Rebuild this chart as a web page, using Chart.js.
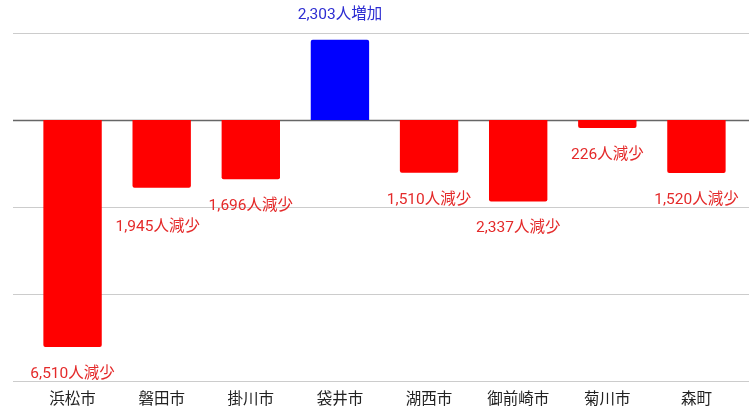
<!DOCTYPE html>
<html lang="ja">
<head>
<meta charset="utf-8">
<script src="https://cdn.jsdelivr.net/npm/chart.js@4"></script>
<style>
  html, body { margin: 0; padding: 0; background: #ffffff; }
  #wrap { width: 749px; height: 408px; position: relative; }
</style>
</head>
<body>
<div id="wrap"><canvas id="popChart" width="749" height="408"></canvas></div>
<script>
const cities = ["浜松市", "磐田市", "掛川市", "袋井市", "湖西市", "御前崎市", "菊川市", "森町"];
const changes = [-6510, -1945, -1696, 2303, -1510, -2337, -226, -1520];
const yTicks = [-7500, -5000, -2500, 0, 2500];

const FONT = "Roboto, 'Noto Sans CJK JP', sans-serif";

// horizontal grid lines, drawn a bit wider than the plot area like the original
const gridPlugin = {
  id: "wideGrid",
  beforeDatasetsDraw(chart) {
    const ctx = chart.ctx;
    const y = chart.scales.y;
    ctx.save();
    yTicks.forEach(function (v) {
      const py = Math.round(y.getPixelForValue(v)) + 0.5;
      ctx.beginPath();
      ctx.strokeStyle = v === 0 ? "#666666" : "#cccccc";
      ctx.lineWidth = v === 0 ? 1.5 : 1;
      ctx.moveTo(13, py);
      ctx.lineTo(chart.width, py);
      ctx.stroke();
    });
    ctx.restore();
  }
};

// label drawn above (increase) or below (decrease) each bar
const valueLabelPlugin = {
  id: "valueLabels",
  afterDatasetsDraw(chart) {
    const ctx = chart.ctx;
    const meta = chart.getDatasetMeta(0);
    ctx.save();
    ctx.font = "15.5px " + FONT;
    ctx.textAlign = "center";
    ctx.textBaseline = "middle";
    meta.data.forEach(function (bar, i) {
      const v = changes[i];
      const text = Math.abs(v).toLocaleString("en-US") + (v >= 0 ? "人増加" : "人減少");
      let extra = 0;
      let dx = 0;
      if (i === 1) {
        extra = 12;
        dx = -4;
      }
      if (v >= 0) {
        ctx.fillStyle = "#2d2dd2";
        ctx.fillText(text, bar.x + dx, bar.y - 25);
      } else {
        ctx.fillStyle = "#e42a2a";
        ctx.fillText(text, bar.x + dx, bar.y + 27 + extra);
      }
    });
    ctx.restore();
  }
};

new Chart(document.getElementById("popChart"), {
  type: "bar",
  data: {
    labels: cities,
    datasets: [
      {
        data: changes,
        backgroundColor: changes.map((v) => (v >= 0 ? "#0000ff" : "#ff0000")),
        borderRadius: 2,
        borderSkipped: "start",
        categoryPercentage: 0.655,
        barPercentage: 1
      }
    ]
  },
  options: {
    responsive: false,
    animation: false,
    devicePixelRatio: 1,
    layout: {
      padding: { left: 28, top: 33, right: 8, bottom: -10 }
    },
    plugins: {
      legend: { display: false },
      tooltip: { enabled: false }
    },
    scales: {
      x: {
        grid: { display: false, drawTicks: false },
        border: { display: false },
        ticks: {
          color: "#222222",
          padding: 9,
          font: { size: 15.5, family: FONT }
        }
      },
      y: {
        min: yTicks[0],
        max: yTicks[yTicks.length - 1],
        afterBuildTicks: function (axis) {
          axis.ticks = yTicks.map((v) => ({ value: v }));
        },
        ticks: { display: false },
        border: { display: false },
        grid: { display: false, drawTicks: false }
      }
    }
  },
  plugins: [gridPlugin, valueLabelPlugin]
});
</script>
</body>
</html>
